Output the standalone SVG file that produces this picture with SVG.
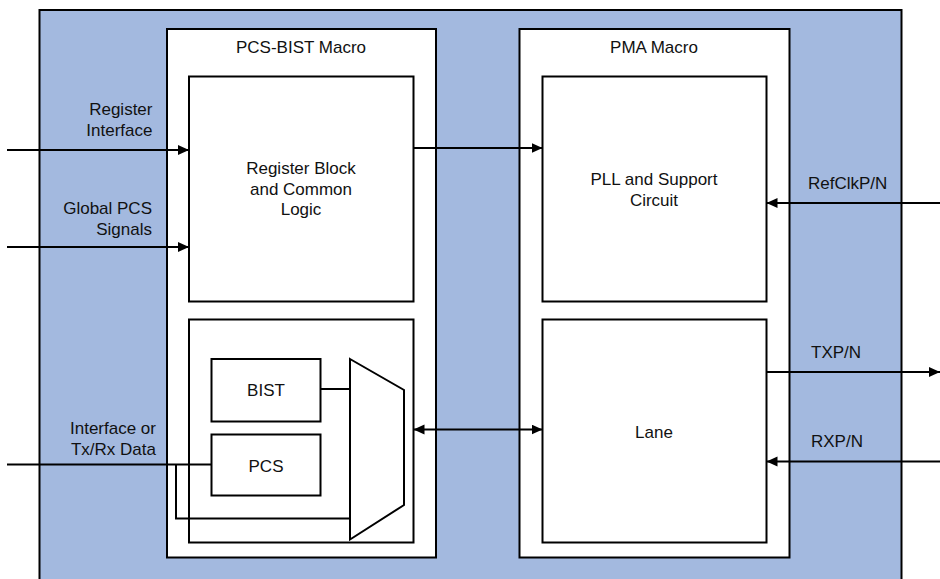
<svg xmlns="http://www.w3.org/2000/svg" width="940" height="579" viewBox="0 0 940 579">
  <style>
    .box { fill: #ffffff; stroke: #000000; stroke-width: 2; }
    .bg { fill: #a3b9df; stroke: #000000; stroke-width: 2; }
    .wire { fill: none; stroke: #000000; stroke-width: 2; }
    .lbl { font-family: "Liberation Sans", Arial, sans-serif; font-size: 17px; fill: #111111; }
    .c { text-anchor: middle; }
    .r { text-anchor: end; }
  </style>
  <defs>
    <marker id="arrow" markerUnits="userSpaceOnUse" markerWidth="12" markerHeight="11" refX="11" refY="5" orient="auto-start-reverse">
      <path d="M0,0 L11,5 L0,10 z" fill="#000000"/>
    </marker>
  </defs>

  <!-- device background -->
  <rect class="bg" x="39.5" y="10" width="862" height="590"/>

  <!-- PCS-BIST macro -->
  <g id="pcs-bist-macro">
    <rect class="box" x="167" y="29" width="269" height="528.5"/>
    <text class="lbl c" x="301" y="52.5">PCS-BIST Macro</text>
  </g>

  <!-- PMA macro -->
  <g id="pma-macro">
    <rect class="box" x="519.5" y="29" width="270" height="528.5"/>
    <text class="lbl c" x="654" y="52.5">PMA Macro</text>
  </g>

  <g id="register-block">
    <rect class="box" x="189" y="76.5" width="224.5" height="225"/>
    <text class="lbl c" x="301" y="174">Register Block</text>
    <text class="lbl c" x="301" y="194.5">and Common</text>
    <text class="lbl c" x="301" y="214.5">Logic</text>
  </g>

  <g id="pcs-lane-block">
    <rect class="box" x="189" y="319.5" width="224.5" height="223"/>
  </g>

  <g id="bist">
    <rect class="box" x="211.5" y="359" width="109" height="62.5"/>
    <text class="lbl c" x="266" y="396">BIST</text>
  </g>

  <g id="pcs">
    <rect class="box" x="211.5" y="434.5" width="109" height="61"/>
    <text class="lbl c" x="266" y="471.5">PCS</text>
  </g>

  <g id="mux">
    <polygon class="box" points="350,359 404,390 404,505 350,539.5"/>
  </g>

  <g id="pll">
    <rect class="box" x="542.5" y="76.5" width="224" height="225"/>
    <text class="lbl c" x="654" y="185">PLL and Support</text>
    <text class="lbl c" x="654" y="205.5">Circuit</text>
  </g>

  <g id="lane">
    <rect class="box" x="542.5" y="319.5" width="224" height="223"/>
    <text class="lbl c" x="654" y="438">Lane</text>
  </g>

  <!-- signal labels -->
  <g id="labels">
    <text class="lbl r" x="152.5" y="115">Register</text>
    <text class="lbl r" x="152.5" y="135.5">Interface</text>
    <text class="lbl r" x="152" y="213.5">Global PCS</text>
    <text class="lbl r" x="152" y="235">Signals</text>
    <text class="lbl r" x="156" y="434">Interface or</text>
    <text class="lbl r" x="156" y="455">Tx/Rx Data</text>
    <text class="lbl" x="808" y="189">RefClkP/N</text>
    <text class="lbl" x="811" y="358">TXP/N</text>
    <text class="lbl" x="811" y="447">RXP/N</text>
  </g>

  <!-- connectors -->
  <g id="connectors">
    <line class="wire" x1="7" y1="150" x2="189" y2="150" marker-end="url(#arrow)"/>
    <line class="wire" x1="7" y1="247" x2="189" y2="247" marker-end="url(#arrow)"/>
    <line class="wire" x1="413.5" y1="148" x2="542.5" y2="148" marker-end="url(#arrow)"/>
    <line class="wire" x1="940" y1="203" x2="766.5" y2="203" marker-end="url(#arrow)"/>
    <line class="wire" x1="766.5" y1="372" x2="940" y2="372" marker-end="url(#arrow)"/>
    <line class="wire" x1="940" y1="461.5" x2="766.5" y2="461.5" marker-end="url(#arrow)"/>
    <line class="wire" x1="413.5" y1="429.5" x2="542.5" y2="429.5" marker-start="url(#arrow)" marker-end="url(#arrow)"/>
    <line class="wire" x1="320.5" y1="389" x2="350" y2="389"/>
    <line class="wire" x1="7" y1="464.5" x2="211.5" y2="464.5"/>
    <polyline class="wire" points="176,464.5 176,518.5 350,518.5"/>
  </g>
</svg>
